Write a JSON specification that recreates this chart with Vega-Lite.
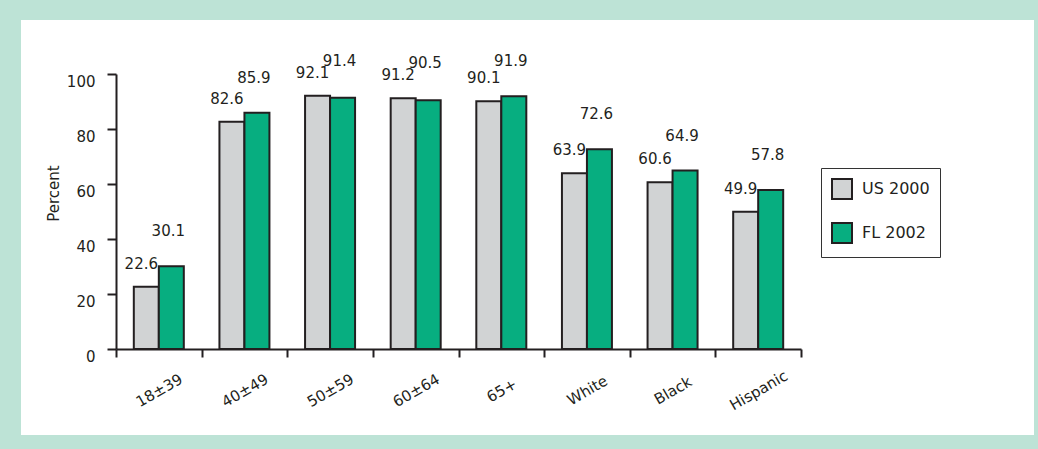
{
  "$schema": "https://vega.github.io/schema/vega-lite/v6.json",
  "width": 1013,
  "height": 415,
  "autosize": {"type": "none"},
  "padding": {"left": 21, "top": 20, "right": 4, "bottom": 14},
  "background": "#bde3d6",
  "config": {
    "view": {"fill": "white", "stroke": null},
    "font": "DejaVu Sans",
    "axis": {
      "domainColor": "#231f20",
      "domainWidth": 2,
      "tickColor": "#231f20",
      "tickWidth": 2,
      "labelColor": "#231f20",
      "labelFontSize": 15,
      "titleColor": "#231f20",
      "titleFontSize": 15,
      "titleFontWeight": "normal",
      "grid": false
    }
  },
  "data": {
    "values": [
      {"group": "18±39", "series": "US 2000", "value": 22.6},
      {"group": "18±39", "series": "FL 2002", "value": 30.1},
      {"group": "40±49", "series": "US 2000", "value": 82.6},
      {"group": "40±49", "series": "FL 2002", "value": 85.9},
      {"group": "50±59", "series": "US 2000", "value": 92.1},
      {"group": "50±59", "series": "FL 2002", "value": 91.4},
      {"group": "60±64", "series": "US 2000", "value": 91.2},
      {"group": "60±64", "series": "FL 2002", "value": 90.5},
      {"group": "65+", "series": "US 2000", "value": 90.1},
      {"group": "65+", "series": "FL 2002", "value": 91.9},
      {"group": "White", "series": "US 2000", "value": 63.9},
      {"group": "White", "series": "FL 2002", "value": 72.6},
      {"group": "Black", "series": "US 2000", "value": 60.6},
      {"group": "Black", "series": "FL 2002", "value": 64.9},
      {"group": "Hispanic", "series": "US 2000", "value": 49.9},
      {"group": "Hispanic", "series": "FL 2002", "value": 57.8}
    ]
  },
  "encoding": {
    "x": {
      "field": "group",
      "type": "nominal",
      "scale": {
        "domain": ["18±39", "40±49", "50±59", "60±64", "65+", "White", "Black", "Hispanic"],
        "range": [95, 780],
        "paddingInner": 0,
        "paddingOuter": 0
      },
      "axis": {
        "title": null,
        "offset": -86,
        "tickBand": "extent",
        "tickSize": 8,
        "labelAngle": -30,
        "labelAlign": "center",
        "labelBaseline": "middle",
        "labelPadding": 33
      }
    },
    "xOffset": {
      "field": "series",
      "type": "nominal",
      "scale": {"domain": ["US 2000", "FL 2002"], "paddingInner": 0, "paddingOuter": 0.7125}
    },
    "y": {
      "field": "value",
      "type": "quantitative",
      "title": "Percent",
      "scale": {"domain": [0, 100], "nice": false, "range": [329, 54]},
      "axis": {
        "values": [0, 20, 40, 60, 80, 100],
        "offset": -95,
        "tickSize": 9,
        "labelPadding": 12,
        "labelBaseline": "top",
        "titleAngle": -90,
        "titleX": -58,
        "titleY": 173,
        "titleAlign": "center",
        "titleBaseline": "alphabetic"
      }
    }
  },
  "layer": [
    {
      "mark": {"type": "bar", "stroke": "#231f20", "strokeWidth": 2},
      "encoding": {
        "color": {
          "field": "series",
          "type": "nominal",
          "scale": {"domain": ["US 2000", "FL 2002"], "range": ["#d1d3d4", "#07ae80"]},
          "legend": {
            "title": null,
            "orient": "none",
            "legendX": 800,
            "legendY": 148,
            "padding": 10,
            "strokeColor": "#333333",
            "symbolType": "square",
            "symbolSize": 400,
            "symbolStrokeColor": "#231f20",
            "symbolStrokeWidth": 2,
            "labelFontSize": 16,
            "labelColor": "#231f20",
            "labelOffset": 9,
            "rowPadding": 16
          }
        }
      }
    },
    {
      "transform": [{"filter": "datum.series == 'US 2000'"}],
      "mark": {"type": "text", "fontSize": 15, "color": "#231f20", "baseline": "alphabetic", "dy": -18, "dx": -5},
      "encoding": {
        "text": {"field": "value", "type": "quantitative", "format": ".1f"}
      }
    },
    {
      "transform": [
        {"joinaggregate": [{"op": "max", "field": "value", "as": "groupMax"}], "groupby": ["group"]},
        {"filter": "datum.series == 'FL 2002'"}
      ],
      "mark": {"type": "text", "fontSize": 15, "color": "#231f20", "baseline": "alphabetic", "dy": -30, "dx": -3},
      "encoding": {
        "y": {"field": "groupMax", "type": "quantitative", "title": "Percent"},
        "text": {"field": "value", "type": "quantitative", "format": ".1f"}
      }
    }
  ]
}
